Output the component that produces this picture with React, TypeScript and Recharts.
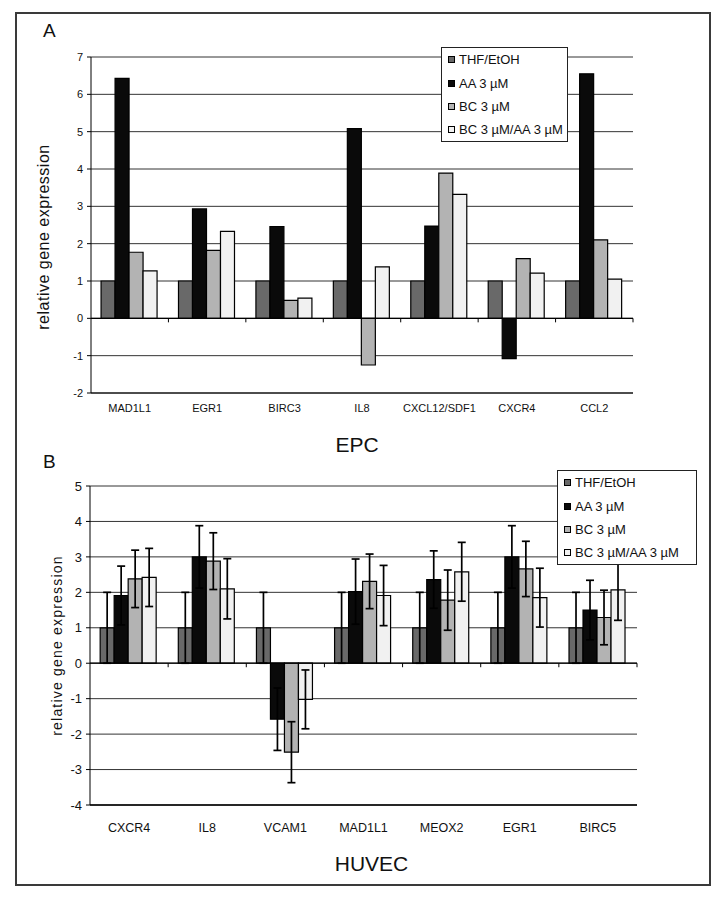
import React from 'react';
import { BarChart, Bar, XAxis, YAxis, CartesianGrid, ReferenceLine, ErrorBar, Legend } from 'recharts';

const FONT = "'Liberation Sans', Arial, Helvetica, sans-serif";

const seriesNames = ['THF/EtOH', 'AA 3 µM', 'BC 3 µM', 'BC 3 µM/AA 3 µM'];
const seriesKeys = ['thf', 'aa', 'bc', 'bcaa'];
const seriesColors = ['#696969', '#0a0a0a', '#b3b3b3', '#f1f1f1'];

// Panel A (EPC)
const epcCategories = ['MAD1L1', 'EGR1', 'BIRC3', 'IL8', 'CXCL12/SDF1', 'CXCR4', 'CCL2'];
const epcThf = [1, 1, 1, 1, 1, 1, 1];
const epcAa = [6.43, 2.93, 2.46, 5.08, 2.47, -1.08, 6.55];
const epcBc = [1.77, 1.82, 0.48, -1.25, 3.89, 1.6, 2.1];
const epcBcAa = [1.27, 2.33, 0.54, 1.38, 3.32, 1.21, 1.05];
const epcTicks = [-2, -1, 0, 1, 2, 3, 4, 5, 6, 7];

// Panel B (HUVEC)
const huvecCategories = ['CXCR4', 'IL8', 'VCAM1', 'MAD1L1', 'MEOX2', 'EGR1', 'BIRC5'];
const huvecThf = [1, 1, 1, 1, 1, 1, 1];
const huvecThfErr = [1, 1, 1, 1, 1, 1, 1];
const huvecAa = [1.91, 3.0, -1.58, 2.02, 2.36, 3.0, 1.5];
const huvecAaErr = [0.83, 0.88, 0.88, 0.92, 0.81, 0.88, 0.84];
const huvecBc = [2.38, 2.88, -2.51, 2.31, 1.78, 2.66, 1.29];
const huvecBcErr = [0.81, 0.8, 0.86, 0.77, 0.85, 0.78, 0.77];
const huvecBcAa = [2.42, 2.1, -1.02, 1.91, 2.58, 1.85, 2.07];
const huvecBcAaErr = [0.82, 0.85, 0.83, 0.85, 0.83, 0.83, 0.86];
const huvecTicks = [-4, -3, -2, -1, 0, 1, 2, 3, 4, 5];

const epcData = epcCategories.map((cat, i) => ({
  cat,
  thf: epcThf[i],
  aa: epcAa[i],
  bc: epcBc[i],
  bcaa: epcBcAa[i],
}));

const huvecData = huvecCategories.map((cat, i) => ({
  cat,
  thf: huvecThf[i],
  thfErr: huvecThfErr[i],
  aa: huvecAa[i],
  aaErr: huvecAaErr[i],
  bc: huvecBc[i],
  bcErr: huvecBcErr[i],
  bcaa: huvecBcAa[i],
  bcaaErr: huvecBcAaErr[i],
}));

const zeroLineShape = (n: number) => (props: any) => {
  const { x1, x2, y1 } = props;
  const step = (x2 - x1) / n;
  const marks = [];
  for (let k = 1; k <= n; k++) {
    const x = x1 + k * step;
    marks.push(<line key={k} x1={x} x2={x} y1={y1} y2={y1 + 4} stroke="#000" strokeWidth={1} />);
  }
  return (
    <g>
      <line x1={x1} x2={x2} y1={y1} y2={y1} stroke="#000" strokeWidth={1.2} />
      {marks}
    </g>
  );
};

const xTitle = (text: string, dx: number, dy: number, size: number) => (props: any) => {
  const vb = props.viewBox || {};
  return (
    <text
      x={vb.x + vb.width / 2 + dx}
      y={vb.y + vb.height + dy}
      textAnchor="middle"
      fontSize={size}
      fontFamily={FONT}
      fill="#111"
    >
      {text}
    </text>
  );
};

const yTitle = (text: string, dx: number, dy: number, size: number, spacing: number) => (props: any) => {
  const vb = props.viewBox || {};
  const cx = vb.x + dx;
  const cy = vb.y + vb.height / 2 + dy;
  return (
    <text
      x={cx}
      y={cy}
      transform={`rotate(-90 ${cx} ${cy})`}
      textAnchor="middle"
      dominantBaseline="central"
      fontSize={size}
      letterSpacing={spacing}
      fontFamily={FONT}
      fill="#111"
    >
      {text}
    </text>
  );
};

const LegendBox = ({ width, padLeft }: { width: number; padLeft: number }) => (
  <div
    style={{
      width,
      height: 95,
      border: '1px solid #222',
      background: '#fff',
      boxSizing: 'border-box',
      fontFamily: FONT,
      fontSize: 13,
      color: '#111',
    }}
  >
    {seriesNames.map((n, i) => (
      <div key={n} style={{ height: 23.4, display: 'flex', alignItems: 'center', paddingLeft: padLeft, whiteSpace: 'nowrap' }}>
        <span
          style={{
            width: 5,
            height: 5,
            border: '1px solid #000',
            background: seriesColors[i],
            marginRight: 4,
            display: 'inline-block',
            flex: 'none',
          }}
        />
        <span>{n}</span>
      </div>
    ))}
  </div>
);

export default function App() {
  return (
    <div style={{ position: 'absolute', left: 0, top: 0, width: 714, height: 900, background: '#fff' }}>
      <div
        style={{
          position: 'absolute',
          left: 15,
          top: 12,
          width: 696,
          height: 874,
          border: '2px solid #3a3a3a',
          boxSizing: 'border-box',
        }}
      />
      <div style={{ position: 'absolute', left: 0, top: 0 }}>
        <BarChart
          width={714}
          height={460}
          data={epcData}
          margin={{ top: 57, right: 81, bottom: 37, left: 61 }}
          barCategoryGap="13%"
          barGap={0}
        >
          <CartesianGrid vertical={false} stroke="#333" />
          <XAxis
            dataKey="cat"
            interval={0}
            tickLine={false}
            tickSize={0}
            tickMargin={11}
            axisLine={{ stroke: '#000' }}
            tick={{ fontSize: 11, fill: '#111', fontFamily: FONT }}
            height={30}
            label={{ content: xTitle('EPC', -5, 28.5, 21) }}
          />
          <YAxis
            domain={[-2, 7]}
            ticks={epcTicks}
            interval={0}
            width={30}
            tickSize={4}
            tickMargin={4}
            axisLine={{ stroke: '#000' }}
            tickLine={{ stroke: '#000' }}
            tick={{ fontSize: 11, fill: '#111', fontFamily: FONT }}
            label={{ content: yTitle('relative gene expression', -18, 12, 16, 0.5) }}
          />
          <ReferenceLine y={0} shape={zeroLineShape(epcCategories.length)} />
          {seriesKeys.map((k, i) => (
            <Bar key={k} dataKey={k} name={seriesNames[i]} fill={seriesColors[i]} stroke="#000" strokeWidth={1.2} isAnimationActive={false} />
          ))}
          <Legend
            layout="vertical"
            align="center"
            verticalAlign="middle"
            wrapperStyle={{ left: 441, top: 47, width: 127, height: 95 }}
            content={() => <LegendBox width={127} padLeft={6} />}
          />
        </BarChart>
      </div>
      <div style={{ position: 'absolute', left: 43, top: 20, fontFamily: FONT, fontSize: 19, color: '#111' }}>A</div>

      <div style={{ position: 'absolute', left: 0, top: 440 }}>
        <BarChart
          width={714}
          height={460}
          data={huvecData}
          margin={{ top: 46, right: 77, bottom: 65, left: 58 }}
          barCategoryGap="13%"
          barGap={0}
        >
          <CartesianGrid vertical={false} stroke="#333" />
          <XAxis
            dataKey="cat"
            interval={0}
            tickLine={false}
            tickSize={0}
            tickMargin={18}
            axisLine={{ stroke: '#000', strokeWidth: 1.5 }}
            tick={{ fontSize: 12.5, fill: '#111', fontFamily: FONT }}
            height={30}
            label={{ content: xTitle('HUVEC', 8, 35.5, 21) }}
          />
          <YAxis
            domain={[-4, 5]}
            ticks={huvecTicks}
            interval={0}
            width={32}
            tickSize={4}
            tickMargin={4}
            axisLine={{ stroke: '#000' }}
            tickLine={{ stroke: '#000' }}
            tick={{ fontSize: 13, fill: '#111', fontFamily: FONT }}
            label={{ content: yTitle('relative gene expression', -1.5, 0, 14, 1.2) }}
          />
          <ReferenceLine y={0} shape={zeroLineShape(huvecCategories.length)} />
          {seriesKeys.map((k, i) => (
            <Bar key={k} dataKey={k} name={seriesNames[i]} fill={seriesColors[i]} stroke="#000" strokeWidth={1.2} isAnimationActive={false}>
              <ErrorBar dataKey={`${k}Err`} width={4} stroke="#000" strokeWidth={1.7} direction="y" />
            </Bar>
          ))}
          <Legend
            layout="vertical"
            align="center"
            verticalAlign="middle"
            wrapperStyle={{ left: 557, top: 30, width: 140, height: 95 }}
            content={() => <LegendBox width={140} padLeft={6} />}
          />
        </BarChart>
      </div>
      <div style={{ position: 'absolute', left: 43, top: 451, fontFamily: FONT, fontSize: 19, color: '#111' }}>B</div>
    </div>
  );
}
